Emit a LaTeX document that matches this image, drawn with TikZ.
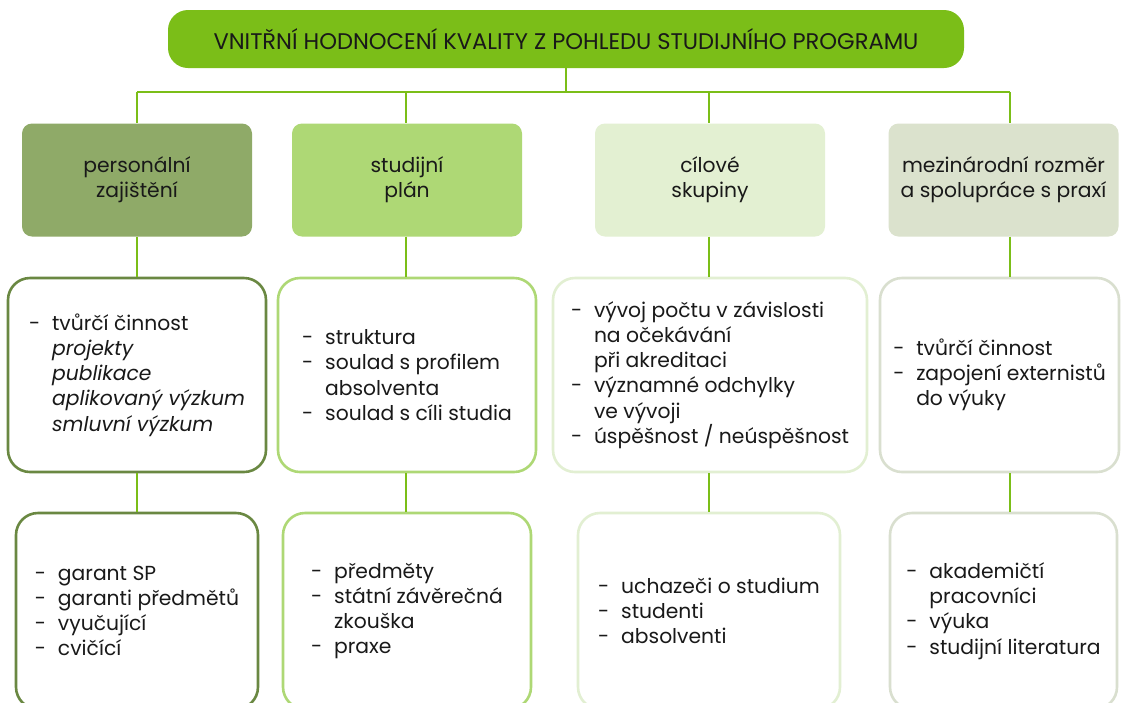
\documentclass[tikz,border=0pt]{standalone}
\usepackage{fontspec}
\setmainfont{Poppins}
\definecolor{lime}{RGB}{123,190,24}
\definecolor{fA}{RGB}{143,170,104}
\definecolor{fB}{RGB}{174,216,117}
\definecolor{fC}{RGB}{227,240,210}
\definecolor{fD}{RGB}{219,226,205}
\definecolor{dA}{RGB}{106,136,66}
\definecolor{dB}{RGB}{174,216,117}
\definecolor{dC}{RGB}{226,239,210}
\definecolor{dD}{RGB}{217,223,207}
\definecolor{txt}{RGB}{25,25,25}
\newcommand{\dl}{\makebox[23pt][l]{-}}
\newcommand{\cl}{\hspace*{23pt}}
\tikzset{
  conn/.style={draw=lime, line width=2.4pt},
  headbox/.style={rounded corners=10pt, minimum width=230pt, minimum height=113pt, inner sep=0pt, align=center, text=txt, font=\fontsize{20.3}{25}\selectfont},
  listbox/.style={rounded corners=22pt, line width=2.6pt, fill=white, inner sep=0pt, align=left, text=txt, font=\fontsize{20.3}{25.2}\selectfont},
}
\begin{document}
\begin{tikzpicture}[x=1pt,y=-1pt]
\path[use as bounding box, clip] (0,0) rectangle (1121,702);
\fill[white] (0,0) rectangle (1121,702);
% title
\node[fill=lime, rounded corners=20pt, minimum width=796pt, minimum height=58pt, inner sep=0pt, text=txt, font=\fontsize{22.6}{26}\selectfont] (title) at (566,39) {VNITŘNÍ HODNOCENÍ KVALITY Z POHLEDU STUDIJNÍHO PROGRAMU};
% bus coordinates
\coordinate (v1) at (137,92);
\coordinate (v2) at (406,92);
\coordinate (v3) at (709,92);
\coordinate (v4) at (1010,92);
% row 1
\node[headbox, fill=fA] (a1) at (137,180) {personální\\zajištění};
\node[headbox, fill=fB] (a2) at (407,180) {studijní\\plán};
\node[headbox, fill=fC] (a3) at (710,180) {cílové\\skupiny};
\node[headbox, fill=fD] (a4) at (1003.5,180) {mezinárodní rozměr\\a spolupráce s praxí};
% row 2
\node[listbox, draw=dA, minimum width=258pt, minimum height=194pt] (b1) at (137,375) {\dl tvůrčí činnost\\\cl\textit{projekty}\\\cl\textit{publikace}\\\cl\textit{aplikovaný výzkum}\\\cl\textit{smluvní výzkum}};
\node[listbox, draw=dB, minimum width=258pt, minimum height=194pt] (b2) at (407,375) {\dl struktura\\\dl soulad s profilem\\\cl absolventa\\\dl soulad s cíli studia};
\node[listbox, draw=dC, minimum width=314pt, minimum height=194pt] (b3) at (710,375) {\dl vývoj počtu v závislosti\\\cl na očekávání\\\cl při akreditaci\\\dl významné odchylky\\\cl ve vývoji\\\dl úspěšnost / neúspěšnost};
\node[listbox, draw=dD, minimum width=239pt, minimum height=194pt] (b4) at (999.5,375) {\dl tvůrčí činnost\\\dl zapojení externistů\\\cl do výuky};
% row 3
\node[listbox, draw=dA, minimum width=242pt, minimum height=196pt] (c1) at (137,611) {\dl garant SP\\\dl garanti předmětů\\\dl vyučující\\\dl cvičící};
\node[listbox, draw=dB, minimum width=248pt, minimum height=196pt] (c2) at (407,611) {\dl předměty\\\dl státní závěrečná\\\cl zkouška\\\dl praxe};
\node[listbox, draw=dC, minimum width=262pt, minimum height=196pt] (c3) at (709,611) {\dl uchazeči o studium\\\dl studenti\\\dl absolventi};
\node[listbox, draw=dD, minimum width=227pt, minimum height=196pt] (c4) at (1003.5,611) {\dl akademičtí\\\cl pracovníci\\\dl výuka\\\dl studijní literatura};
% connectors
\draw[conn] (v1) -- (v4);
\draw[conn] (title.south) -- (title.south |- v1);
\draw[conn] (v1) -- (v1 |- a1.north);
\draw[conn] (v2) -- (v2 |- a2.north);
\draw[conn] (v3) -- (v3 |- a3.north);
\draw[conn] (v4) -- (v4 |- a4.north);
\draw[conn] (v1 |- a1.south) -- (v1 |- b1.north);
\draw[conn] (v2 |- a2.south) -- (v2 |- b2.north);
\draw[conn] (v3 |- a3.south) -- (v3 |- b3.north);
\draw[conn] (v4 |- a4.south) -- (v4 |- b4.north);
\draw[conn] (v1 |- b1.south) -- (v1 |- c1.north);
\draw[conn] (v2 |- b2.south) -- (v2 |- c2.north);
\draw[conn] (v3 |- b3.south) -- (v3 |- c3.north);
\draw[conn] (v4 |- b4.south) -- (v4 |- c4.north);
\end{tikzpicture}
\end{document}
